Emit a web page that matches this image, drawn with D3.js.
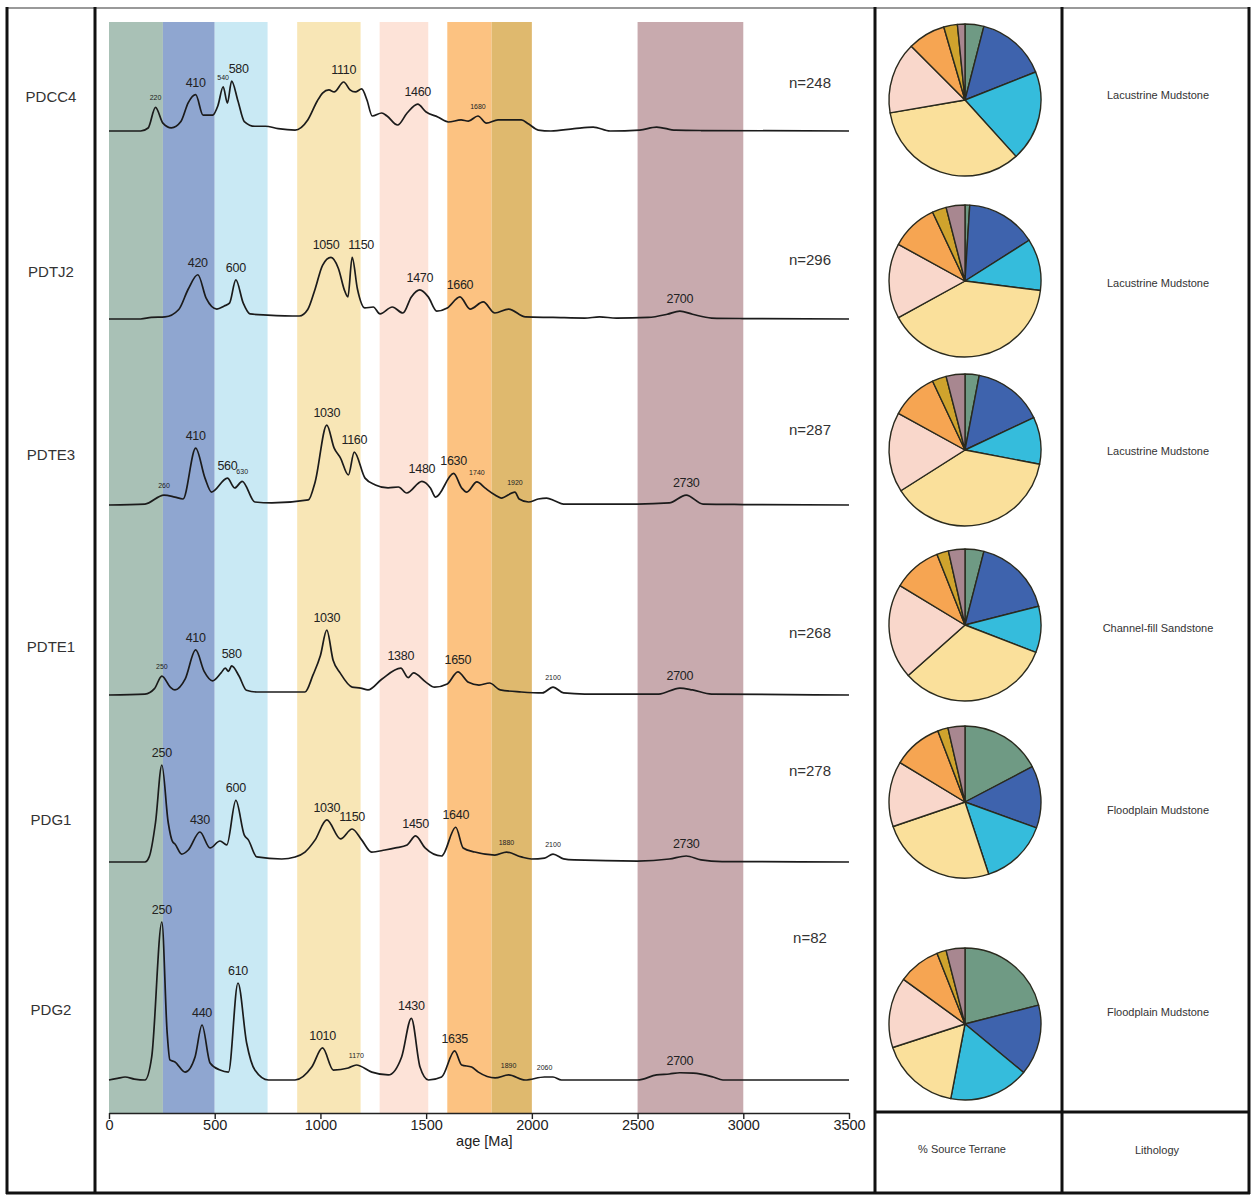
<!DOCTYPE html>
<html>
<head>
<meta charset="utf-8">
<script src="https://cdn.jsdelivr.net/npm/d3@7"></script>
<style>
  body { margin: 0; background: #fff; }
  svg { display: block; font-family: "Liberation Sans", Arial, sans-serif; }
</style>
</head>
<body>
<svg id="chart" width="1253" height="1196"></svg>
<script>
// ---- data ----------------------------------------------------------------
const samples = ["PDCC4", "PDTJ2", "PDTE3", "PDTE1", "PDG1", "PDG2"];
const sampleCounts = [248, 296, 287, 268, 278, 82];
const lithology = ["Lacustrine Mudstone", "Lacustrine Mudstone", "Lacustrine Mudstone",
                   "Channel-fill Sandstone", "Floodplain Mudstone", "Floodplain Mudstone"];

// source terranes: age windows (Ma) shaded behind the spectra
const terranes = ["T1", "T2", "T3", "T4", "T5", "T6", "T7", "T8"];
const terraneAges = [[0, 255], [255, 500], [500, 750], [890, 1190],
                     [1280, 1510], [1600, 1810], [1810, 2000], [2500, 3000]];

// age axis ticks
const ageTicks = [0, 500, 1000, 1500, 2000, 2500, 3000, 3500];

// relative probability density (% of the tallest peak), [age Ma, density]
const densityPDCC4 = [[0,0],[150,0],[185,1.9],[220,15],[255,5],[295,2],[340,6],[375,18],[410,23],
  [445,10],[490,10],[515,16],[540,28],[560,17.7],[580,31.6],[610,19],[640,6],[690,3],[740,3],
  [800,1.5],[880,0.6],[940,7],[985,19],[1010,24],[1040,26],[1065,24.7],[1110,31],[1140,26],
  [1165,24.7],[1195,26.6],[1220,19.6],[1245,9.5],[1290,11.4],[1315,9.5],[1365,3.8],[1410,11.4],
  [1460,17],[1500,12],[1555,8.9],[1605,5.7],[1665,7],[1700,6.3],[1745,9.5],[1785,5],[1840,7],
  [1950,7],[1985,4.4],[2030,0.6],[2090,0],[2200,1.5],[2290,2.5],[2370,0],[2510,0.6],[2590,2.5],
  [2680,0.5],[2800,0.3],[3500,0]];
const densityPDTJ2 = [[0,0],[150,0],[200,1],[265,1.3],[330,6],[375,19],[420,28],[460,13],[510,6.3],
  [545,8.2],[570,10],[600,24.7],[635,10],[667,3.2],[750,2.5],[900,1.9],[940,6],[975,19],[1010,34],
  [1050,39],[1085,32],[1115,17.7],[1130,14],[1150,39],[1175,19],[1210,7],[1250,7.6],[1282,3.2],
  [1340,7.6],[1390,3.8],[1430,14],[1470,18.4],[1510,14],[1550,5],[1600,7],[1660,14],[1708,6.3],
  [1770,10.8],[1825,3.8],[1890,6.3],[1970,1.3],[2100,1],[2250,0.6],[2320,1.3],[2400,0.6],
  [2550,1],[2640,3],[2700,5],[2760,3],[2850,0.6],[3000,0.3],[3500,0]];
const densityPDTE3 = [[0,0],[170,0.6],[260,6.3],[312,5],[350,3.8],[410,36],[454,17],[485,8.2],
  [560,17],[595,10.8],[630,15],[690,1.9],[770,1.3],[943,3.2],[975,14.6],[1030,50.6],[1065,36],
  [1095,29.7],[1132,19],[1160,33.5],[1211,17],[1260,12.7],[1320,10.8],[1369,11.4],[1408,7.6],
  [1480,15],[1520,10.8],[1545,5],[1630,20],[1668,10.8],[1692,8.2],[1740,14.6],[1778,10.8],
  [1826,6.3],[1855,4.4],[1920,8.2],[1940,3.8],[1984,1.9],[2030,3.8],[2070,4.4],[2110,2.5],
  [2150,0.6],[2500,0.6],[2650,1.3],[2730,6.3],[2810,0.6],[3000,0.3],[3500,0]];
const densityPDTE1 = [[0,0],[170,0.6],[215,4],[250,12],[290,5],[312,3.2],[360,10],[410,28.5],
  [450,15],[490,9],[530,14],[550,17],[565,15],[580,18.4],[615,12],[650,3],[700,1.9],[927,1.9],
  [965,12.7],[1000,25],[1030,41],[1060,22],[1093,14],[1150,5],[1190,4.4],[1225,3.2],[1290,10],
  [1380,17],[1415,11],[1440,14],[1500,8],[1540,5],[1600,7],[1650,14.6],[1700,8],[1750,6.3],
  [1800,7.6],[1850,3.2],[1950,1.9],[2050,1.3],[2100,5],[2150,1.3],[2250,0.6],[2600,0.6],
  [2700,4.4],[2760,3.2],[2850,0.6],[3500,0]];
const densityPDG1 = [[0,0],[170,0],[190,3.2],[220,25],[250,61.4],[280,25],[300,13],[312,11.4],
  [344,5],[375,7.6],[430,19],[478,8.9],[525,13.3],[557,10.8],[600,39],[640,17],[659,14],[699,3.2],
  [817,1.9],[880,3.2],[927,6.3],[975,14],[1030,26.6],[1095,14.6],[1150,20.9],[1195,14],[1242,6.3],
  [1305,7.6],[1355,8.9],[1410,10.8],[1450,16.5],[1495,8.9],[1573,3.8],[1640,22],[1675,8.9],
  [1730,6.3],[1825,4.4],[1880,6.3],[1950,3.2],[1998,1.9],[2060,2.5],[2100,5],[2150,2],[2200,1.3],
  [2500,0.6],[2650,1.9],[2730,3.8],[2800,1.3],[2900,0.3],[3500,0]];
const densityPDG2 = [[0,0],[40,1],[76,1.9],[120,0.6],[170,0],[202,14.6],[250,100],[275,30],
  [288,12.7],[312,11.4],[360,5],[407,14.6],[440,34.8],[478,10.8],[525,6.3],[565,5],[610,61.4],
  [651,23.4],[690,6.3],[754,0],[880,0],[959,8.2],[1010,20.3],[1061,6.3],[1132,7.6],[1170,9.5],
  [1243,5],[1321,3.2],[1384,14.6],[1430,39],[1471,8.2],[1511,0],[1573,1.9],[1635,18.4],[1668,9.5],
  [1715,8.2],[1747,5],[1826,1.3],[1890,3.2],[1968,0],[2060,1.9],[2100,1.9],[2140,0],[2500,0],
  [2590,3.2],[2650,3.8],[2700,4.6],[2764,4.4],[2857,1.9],[2904,0],[3500,0]];
const densities = [densityPDCC4, densityPDTJ2, densityPDTE3, densityPDTE1, densityPDG1, densityPDG2];

// labelled peak ages; minor peaks are marked with "s"
const peaksPDCC4 = [[220,"s"],[410],[540,"s"],[580],[1110],[1460],[1745,"s","1680"]];
const peaksPDTJ2 = [[420],[600],[1050],[1150],[1470],[1660],[2700]];
const peaksPDTE3 = [[260,"s"],[410],[560],[630,"s"],[1030],[1160],[1480],[1630],[1740,"s"],[1920,"s"],[2730]];
const peaksPDTE1 = [[250,"s"],[410],[580],[1030],[1380],[1650],[2100,"s"],[2700]];
const peaksPDG1  = [[250],[430],[600],[1030],[1150],[1450],[1640],[1880,"s"],[2100,"s"],[2730]];
const peaksPDG2  = [[250],[440],[610],[1010],[1170,"s"],[1430],[1635],[1890,"s"],[2060,"s"],[2700]];
const peaks = [peaksPDCC4, peaksPDTJ2, peaksPDTE3, peaksPDTE1, peaksPDG1, peaksPDG2];

// % source terrane per sample (same order as terranes)
const sourcePDCC4 = [4.0, 15.0, 19.3, 34.0, 15.2, 8.0, 2.9, 1.6];
const sourcePDTJ2 = [1.0, 15.0, 11.0, 40.0, 16.0, 10.0, 3.0, 4.0];
const sourcePDTE3 = [3.0, 15.0, 10.0, 38.0, 17.0, 10.0, 3.0, 4.0];
const sourcePDTE1 = [4.0, 17.0, 9.8, 32.5, 20.2, 10.3, 2.5, 3.5];
const sourcePDG1  = [17.3, 13.2, 14.4, 24.8, 13.9, 10.5, 2.2, 3.6];
const sourcePDG2  = [21.0, 15.0, 17.0, 17.0, 15.0, 9.0, 2.0, 4.0];
const sources = [sourcePDCC4, sourcePDTJ2, sourcePDTE3, sourcePDTE1, sourcePDG1, sourcePDG2];

// ---- styles & layout -------------------------------------------------------
const bandColors = ["#a9c1b6", "#8fa6d0", "#c9e9f4", "#f8e6b6", "#fde3d8", "#fcc281", "#dfb96e", "#c8aaae"];
const pieColors  = ["#6f9a84", "#3e63ad", "#35bcdc", "#fae09b", "#f9d7cb", "#f6a552", "#cfa32d", "#a88790"];

const rowBase   = [131, 319, 505, 695, 862, 1080];   // spectrum baselines
const rowName   = [97, 272, 455, 647, 820, 1010];
const rowN      = [83, 260, 430, 633, 771, 938];
const rowPie    = [100, 281, 450, 625, 802, 1024];
const rowLith   = [95, 283, 451, 628, 810, 1012];
// horizontal nudges (px) for peak labels that would otherwise collide
const labelShift = { "0-580": 7, "1-1050": -5, "1-1150": 9 };

const svg = d3.select("#chart");
const x = d3.scaleLinear().domain([0, 3500]).range([109, 849]);
const h = d3.scaleLinear().domain([0, 100]).range([0, 158]);
const axisY = 1113, bandTop = 22;

// terrane bands
svg.append("g").selectAll("rect").data(terraneAges).join("rect")
  .attr("x", d => x(d[0])).attr("width", d => x(d[1]) - x(d[0]))
  .attr("y", bandTop).attr("height", axisY - bandTop)
  .attr("fill", (d, i) => bandColors[i]);

// spectra
const line = d3.line().curve(d3.curveMonotoneX);
densities.forEach((dens, i) => {
  const g = svg.append("g");
  line.x(d => x(d[0])).y(d => rowBase[i] - h(d[1]));
  g.append("path").attr("d", line(dens))
    .attr("fill", "none").attr("stroke", "#1b1b1b").attr("stroke-width", 1.7)
    .attr("stroke-linejoin", "round");
  const lookup = a => {
    let best = dens[0];
    dens.forEach(p => { if (Math.abs(p[0] - a) < Math.abs(best[0] - a)) best = p; });
    return best[1];
  };
  g.selectAll("text").data(peaks[i]).join("text")
    .attr("x", d => x(d[0]) + (labelShift[i + "-" + d[0]] || 0))
    .attr("y", d => rowBase[i] - h(lookup(d[0])) - (d[1] === "s" ? 7 : 8))
    .attr("text-anchor", "middle")
    .attr("font-size", d => d[1] === "s" ? 7 : 12.5)
    .attr("letter-spacing", d => d[1] === "s" ? 0 : -0.3)
    .attr("fill", "#222")
    .text(d => d[2] || d[0]);
  svg.append("text").attr("x", 810).attr("y", rowN[i]).attr("dy", "0.35em")
    .attr("text-anchor", "middle").attr("font-size", 15).attr("fill", "#333")
    .text("n=" + sampleCounts[i]);
  svg.append("text").attr("x", 51).attr("y", rowName[i]).attr("dy", "0.35em")
    .attr("text-anchor", "middle").attr("font-size", 15).attr("fill", "#333")
    .text(samples[i]);
  svg.append("text").attr("x", 1158).attr("y", rowLith[i]).attr("dy", "0.35em")
    .attr("text-anchor", "middle").attr("font-size", 11).attr("fill", "#333")
    .text(lithology[i]);
});

// pies
const pie = d3.pie().sort(null).value(d => d);
const arc = d3.arc().innerRadius(0).outerRadius(76);
sources.forEach((src, i) => {
  const g = svg.append("g").attr("transform", `translate(965,${rowPie[i]})`);
  g.selectAll("path").data(pie(src)).join("path")
    .attr("d", arc).attr("fill", (d, k) => pieColors[k])
    .attr("stroke", "#2a2a1e").attr("stroke-width", 1.4).attr("stroke-linejoin", "round");
});

// age axis
const axis = svg.append("g").attr("transform", `translate(0,${axisY})`)
  .call(d3.axisBottom(x).tickValues(ageTicks).tickFormat(d3.format("d"))
    .tickSize(6).tickSizeOuter(0).tickPadding(1));
axis.select(".domain").attr("stroke", "#222").attr("stroke-width", 1.4);
axis.selectAll(".tick line").attr("stroke", "#222").attr("stroke-width", 1.4);
axis.selectAll(".tick text").attr("font-size", 14.5).attr("fill", "#222")
  .attr("font-family", "'Liberation Sans', Arial, sans-serif");
svg.append("text").attr("x", x(1775)).attr("y", 1141).attr("dy", "0.35em")
  .attr("text-anchor", "middle").attr("font-size", 14.5).attr("fill", "#222").text("age [Ma]");

svg.append("text").attr("x", 962).attr("y", 1149).attr("dy", "0.35em")
  .attr("text-anchor", "middle").attr("font-size", 11).attr("fill", "#333").text("% Source Terrane");
svg.append("text").attr("x", 1157).attr("y", 1150).attr("dy", "0.35em")
  .attr("text-anchor", "middle").attr("font-size", 11).attr("fill", "#333").text("Lithology");

// panel frame
const frame = svg.append("g").attr("fill", "none").attr("stroke", "#111").attr("stroke-width", 3);
frame.append("line").attr("x1", 7).attr("x2", 1249).attr("y1", 8).attr("y2", 8)
  .attr("stroke", "#777").attr("stroke-width", 1.5);
frame.append("line").attr("x1", 6).attr("x2", 1250).attr("y1", 1193).attr("y2", 1193);
[7, 95, 875, 1062, 1249].forEach(xx =>
  frame.append("line").attr("x1", xx).attr("x2", xx).attr("y1", 7).attr("y2", 1194));
frame.append("line").attr("x1", 875).attr("x2", 1249).attr("y1", 1112).attr("y2", 1112);
</script>
</body>
</html>
